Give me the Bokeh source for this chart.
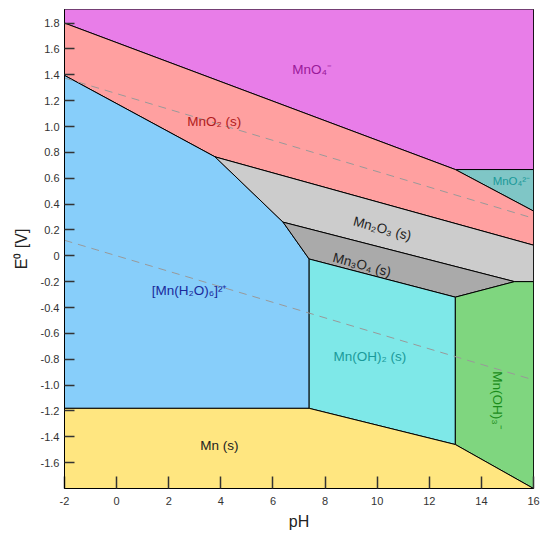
from bokeh.plotting import figure
from bokeh.models import ColumnDataSource, FixedTicker
from bokeh.core.properties import value
from bokeh.embed import file_html
from bokeh.resources import INLINE
import math

# ---- data (pH, E0) ----
ph_range = (-2, 16)
e_range = (-1.8, 1.905)
E_TOP, E_BOT = 2.0, -1.9

regions = ["MnO4-", "MnO4 2-", "MnO2", "Mn2+", "Mn2O3", "Mn3O4", "Mn(OH)2", "Mn(OH)3-", "Mn"]
mno4_ph = [-2, 13, 16, 16, -2]
mno4_e = [1.80, 0.667, 0.667, E_TOP, E_TOP]
mno42_ph = [13, 16, 16]
mno42_e = [0.667, 0.667, 0.346]
mno2_ph = [-2, 13, 16, 16, 3.78, -2]
mno2_e = [1.80, 0.667, 0.346, 0.082, 0.765, 1.395]
mn2_ph = [-2, 3.78, 6.39, 7.39, 7.39, -2]
mn2_e = [1.395, 0.765, 0.26, -0.025, -1.18, -1.18]
mn2o3_ph = [3.78, 16, 16, 15.27, 6.39]
mn2o3_e = [0.765, 0.082, -0.20, -0.20, 0.26]
mn3o4_ph = [6.39, 15.27, 13, 7.39]
mn3o4_e = [0.26, -0.20, -0.32, -0.025]
mnoh2_ph = [7.39, 13, 13, 7.39]
mnoh2_e = [-0.025, -0.32, -1.46, -1.18]
mnoh3_ph = [13, 15.27, 16, 16, 13]
mnoh3_e = [-0.32, -0.20, -0.20, -1.8, -1.46]
mn_ph = [-2, 7.39, 13, 16, 16, -2]
mn_e = [-1.18, -1.18, -1.46, -1.8, E_BOT, E_BOT]

# water stability lines
o2_ph = [-2, 16]
o2_e = [1.375, 0.29]
h2_ph = [-2, 16]
h2_e = [0.12, -0.96]

label_text = ["MnO₄⁻", "MnO₂ (s)", "MnO₄²⁻", "Mn₂O₃ (s)", "Mn₃O₄ (s)",
              "[Mn(H₂O)₆]²⁺", "Mn(OH)₂ (s)", "Mn(OH)₃⁻", "Mn (s)"]
label_ph = [7.5, 3.75, 15.15, 10.2, 9.42, 2.8, 9.72, 14.6, 3.94]
label_e = [1.44, 1.04, 0.575, 0.21, -0.07, -0.27, -0.78, -1.12, -1.47]

x_ticks = [-2, 0, 2, 4, 6, 8, 10, 12, 14, 16]
x_tick_labels = ["-2", "0", "2", "4", "6", "8", "10", "12", "14", "16"]
y_ticks = [-1.6, -1.4, -1.2, -1.0, -0.8, -0.6, -0.4, -0.2, 0.0,
           0.2, 0.4, 0.6, 0.8, 1.0, 1.2, 1.4, 1.6, 1.8]
y_tick_labels = ["-1.6", "-1.4", "-1.2", "-1.0", "-0.8", "-0.6", "-0.4", "-0.2", "0",
                 "0.2", "0.4", "0.6", "0.8", "1.0", "1.2", "1.4", "1.6", "1.8"]

# ---- styles ----
fills = ["#E87DE8", "#7FC6C6", "#FFA0A0", "#87CEFA", "#CCCCCC", "#AAAAAA",
         "#7EE8E8", "#7FD67F", "#FFE680"]
label_colors = ["#9a1a9a", "#b01c1c", "#1a9999", "#222222", "#222222",
                "#1a2a9a", "#1a9a9a", "#1a8c1a", "#222222"]
label_angles = [0, 0, 0, -0.26, -0.26, 0, 0, -math.pi / 2, 0]
label_sizes = ["13.5px", "13.5px", "11.5px", "13.5px", "13.5px", "13.5px", "13.5px",
               "13.5px", "13.5px"]

FONT = "Liberation Sans"

p = figure(width=545, height=532, x_range=ph_range, y_range=e_range,
           output_backend="svg", toolbar_location=None,
           min_border_left=64, min_border_right=12, min_border_top=9, min_border_bottom=41)

src = ColumnDataSource(dict(
    xs=[mno4_ph, mno42_ph, mno2_ph, mn2_ph, mn2o3_ph, mn3o4_ph, mnoh2_ph, mnoh3_ph, mn_ph],
    ys=[mno4_e, mno42_e, mno2_e, mn2_e, mn2o3_e, mn3o4_e, mnoh2_e, mnoh3_e, mn_e],
    name=regions, fill=fills))
p.patches("xs", "ys", source=src, fill_color="fill", line_color="black", line_width=1)

p.line(o2_ph, o2_e, line_color="#999999", line_dash="8 6", line_width=1)
p.line(h2_ph, h2_e, line_color="#999999", line_dash="8 6", line_width=1)

lsrc = ColumnDataSource(dict(x=label_ph, y=label_e, text=label_text, color=label_colors,
                             angle=label_angles, size=label_sizes))
p.text("x", "y", text="text", source=lsrc, text_color="color", angle="angle",
       text_font_size="size", text_font=value(FONT),
       text_align="center", text_baseline="middle")

p.grid.visible = False
p.outline_line_color = "black"
p.outline_line_width = 1
p.background_fill_color = "white"
p.border_fill_color = "white"

for ax in (p.xaxis[0], p.yaxis[0]):
    ax.major_tick_out = 0
    ax.minor_tick_in = 0
    ax.minor_tick_out = 0
    ax.major_tick_line_color = "#333333"
    ax.major_tick_line_width = 1.5
    ax.axis_line_color = "black"
    ax.major_label_text_font = FONT
    ax.major_label_text_font_size = "11px"
    ax.major_label_text_color = "#333333"
    ax.axis_label_text_font = FONT
    ax.axis_label_text_font_style = "normal"
    ax.axis_label_text_font_size = "16px"
    ax.axis_label_text_color = "#222222"

p.xaxis.ticker = FixedTicker(ticks=x_ticks)
p.xaxis.major_label_overrides = dict(zip(x_ticks, x_tick_labels))
p.xaxis.major_tick_in = 12
p.xaxis.major_label_standoff = 8
p.xaxis.axis_label = "pH"
p.xaxis.axis_label_standoff = 5

p.yaxis.ticker = FixedTicker(ticks=y_ticks)
p.yaxis.major_label_overrides = dict(zip(y_ticks, y_tick_labels))
p.yaxis.major_tick_in = 10
p.yaxis.major_label_standoff = 5
p.yaxis.axis_label = "E⁰ [V]"
p.yaxis.axis_label_standoff = 8

open("out.html", "w").write(file_html(p, INLINE))
